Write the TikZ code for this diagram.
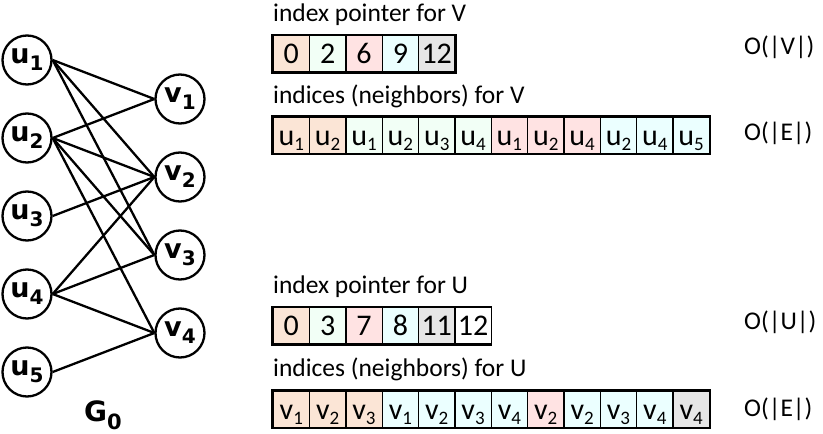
\documentclass[tikz,border=0pt]{standalone}
\usepackage{fontspec}
\setmainfont{Carlito}
\newfontfamily\nodefont{DejaVu Sans}
\definecolor{cpeach}{HTML}{FBE5D6}
\definecolor{cmint}{HTML}{F2FFF6}
\definecolor{cpink}{HTML}{FFE3E3}
\definecolor{ccyan}{HTML}{EBFFFF}
\definecolor{cgray}{HTML}{E6E6E6}
\newcommand\csub[1]{\raisebox{-5.5pt}{\fontsize{19}{19}\selectfont #1}}
\newcommand\nsub[1]{\raisebox{-7pt}{\fontsize{20}{20}\selectfont #1}}
\newcommand\gsub[1]{\raisebox{-8pt}{\fontsize{21}{21}\selectfont #1}}
\begin{document}
\begin{tikzpicture}[x=1pt,y=-1pt,
  vert/.style={circle,draw,line width=2.3pt,minimum size=49pt,inner sep=0pt,font=\nodefont\bfseries\fontsize{27}{27}\selectfont},
  edge/.style={line width=2.3pt},
  cell/.style={draw,line width=1.3pt,minimum width=36.35pt,minimum height=36pt,inner sep=0pt,text height=28pt,text depth=8pt,font=\fontsize{30}{30}\selectfont,anchor=north west},
  outer/.style={line width=2.4pt},
  lbl/.style={anchor=base west,inner sep=0pt,font=\fontsize{25.5}{25.5}\selectfont},
  cplx/.style={anchor=west,inner sep=0pt,font=\fontsize{25.5}{25.5}\selectfont}]
\useasboundingbox (0,0) rectangle (823,434);
% graph
\foreach \i in {1,...,5} \node[vert] (u\i) at (27,{60+78*(\i-1)}) {u\nsub{\i}};
\foreach \j in {1,...,4} \node[vert] (v\j) at (180,{99+78*(\j-1)}) {v\nsub{\j}};
\foreach \a/\b in {1/1,1/2,1/3,2/1,2/2,2/3,2/4,3/2,4/2,4/3,4/4,5/4}
  \draw[edge] (u\a.east) -- (v\b.west);
\node[font=\nodefont\bfseries\fontsize{28}{28}\selectfont] (g0) at (103,415) {G\gsub{0}};
% array 1
\node[lbl] (l1) at (273,21.5) {index pointer for V};
\foreach [count=\i from 0] \t/\c in {0/cpeach,2/cmint,6/cpink,9/ccyan,12/cgray}
  \node[cell,fill=\c] (a1c\i) at ({272.5+\i*36.35},35) {\t};
\draw[outer] (a1c0.north west) rectangle (a1c4.south east);
% array 2
\node[lbl] (l2) at (273,103) {indices (neighbors) for V};
\foreach [count=\i from 0] \t/\c in {u\csub{1}/cpeach,u\csub{2}/cpeach,u\csub{1}/cmint,u\csub{2}/cmint,u\csub{3}/cmint,u\csub{4}/cmint,u\csub{1}/cpink,u\csub{2}/cpink,u\csub{4}/cpink,u\csub{2}/ccyan,u\csub{4}/ccyan,u\csub{5}/ccyan}
  \node[cell,fill=\c] (a2c\i) at ({272.5+\i*36.35},116.5) {\t};
\draw[outer] (a2c0.north west) rectangle (a2c11.south east);
% array 3
\node[lbl] (l3) at (273,293) {index pointer for U};
\foreach [count=\i from 0] \t/\c in {0/cpeach,3/cmint,7/cpink,8/ccyan,11/cgray,12/white}
  \node[cell,fill=\c] (a3c\i) at ({272.5+\i*36.35},307) {\t};
\draw[outer] (a3c5.north east) -- (a3c0.north west) -- (a3c0.south west) -- (a3c5.south east);
% array 4
\node[lbl] (l4) at (273,376.5) {indices (neighbors) for U};
\foreach [count=\i from 0] \t/\c in {v\csub{1}/cpeach,v\csub{2}/cpeach,v\csub{3}/cpeach,v\csub{1}/ccyan,v\csub{2}/ccyan,v\csub{3}/ccyan,v\csub{4}/ccyan,v\csub{2}/cpink,v\csub{2}/ccyan,v\csub{3}/ccyan,v\csub{4}/ccyan,v\csub{4}/cgray}
  \node[cell,fill=\c] (a4c\i) at ({272.5+\i*36.35},390.5) {\t};
\draw[outer] (a4c0.north west) rectangle (a4c11.south east);
% complexity
\node[cplx] (o1) at (744,47) {O(|V|)};
\node[cplx] (o2) at (744,133) {O(|E|)};
\node[cplx] (o3) at (744,322) {O(|U|)};
\node[cplx] (o4) at (744,409) {O(|E|)};
\end{tikzpicture}
\end{document}
